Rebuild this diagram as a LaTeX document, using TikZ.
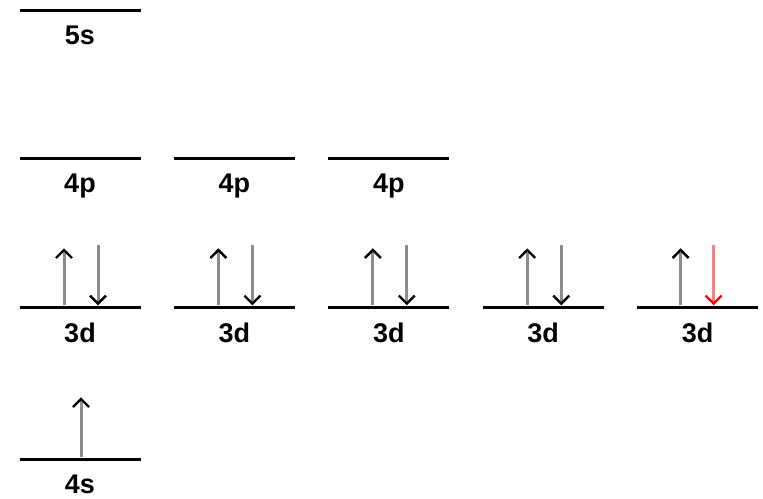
\documentclass[tikz,border=0pt]{standalone}
\usepackage{fontspec}
\setmainfont{Liberation Sans}
\usetikzlibrary{arrows.meta, positioning}
\tikzset{
    level/.style={rectangle, fill=black, minimum width=121pt, minimum height=3pt, inner sep=0pt},
    orbital/.style={font=\bfseries\fontsize{27}{32}\selectfont, inner sep=0pt},
    spin/.style={line width=3pt, draw=black!45, -{Straight Barb[length=8pt, width=16pt, line width=2.4pt, color=black]}},
    flip/.style={line width=3pt, draw=red!50, -{Straight Barb[length=8pt, width=16pt, line width=2.4pt, color=red]}}
}
\begin{document}
\begin{tikzpicture}[x=1pt, y=1pt]
            \useasboundingbox (0,0) rectangle (763,-498);

            \node[level] (s5) at (80,-10) {};
            \node[level] (p1) at (80,-158) {};
            \node[level, right=33pt of p1] (p2) {};
            \node[level, right=33pt of p2] (p3) {};
            \node[level] (d1) at (80,-307) {};
            \node[level, right=33pt of d1] (d2) {};
            \node[level, right=33pt of d2] (d3) {};
            \node[level, right=33pt of d3] (d4) {};
            \node[level, right=33pt of d4] (d5) {};
            \node[level] (s4) at (80,-459) {};

            \node[orbital, below=14pt of s5] (s5name) {5s};
            \node[orbital, below=14pt of p1] (p1name) {4p};
            \node[orbital, below=14pt of p2] (p2name) {4p};
            \node[orbital, below=14pt of p3] (p3name) {4p};
            \node[orbital, below=14pt of d1] (d1name) {3d};
            \node[orbital, below=14pt of d2] (d2name) {3d};
            \node[orbital, below=14pt of d3] (d3name) {3d};
            \node[orbital, below=14pt of d4] (d4name) {3d};
            \node[orbital, below=14pt of d5] (d5name) {3d};
            \node[orbital, below=14pt of s4] (s4name) {4s};

            % electrons
            \coordinate[above left=57pt and 16pt of d1.north] (d1up);
            \coordinate[above right=60pt and 18pt of d1.north] (d1dn);
            \coordinate[above left=57pt and 16pt of d2.north] (d2up);
            \coordinate[above right=60pt and 18pt of d2.north] (d2dn);
            \coordinate[above left=57pt and 16pt of d3.north] (d3up);
            \coordinate[above right=60pt and 18pt of d3.north] (d3dn);
            \coordinate[above left=57pt and 16pt of d4.north] (d4up);
            \coordinate[above right=60pt and 18pt of d4.north] (d4dn);
            \coordinate[above left=57pt and 17pt of d5.north] (d5up);
            \coordinate[above right=60pt and 16pt of d5.north] (d5dn);
            \coordinate[above right=60pt and 1pt of s4.north] (s4up);

            \draw[spin] (d1up |- d1.north) -- (d1up);
            \draw[spin] (d1dn) -- (d1dn |- d1.north);
            \draw[spin] (d2up |- d2.north) -- (d2up);
            \draw[spin] (d2dn) -- (d2dn |- d2.north);
            \draw[spin] (d3up |- d3.north) -- (d3up);
            \draw[spin] (d3dn) -- (d3dn |- d3.north);
            \draw[spin] (d4up |- d4.north) -- (d4up);
            \draw[spin] (d4dn) -- (d4dn |- d4.north);
            \draw[spin] (d5up |- d5.north) -- (d5up);
            \draw[flip] (d5dn) -- (d5dn |- d5.north);
            \draw[spin] (s4up |- s4.north) -- (s4up);
        \end{tikzpicture}
\end{document}
